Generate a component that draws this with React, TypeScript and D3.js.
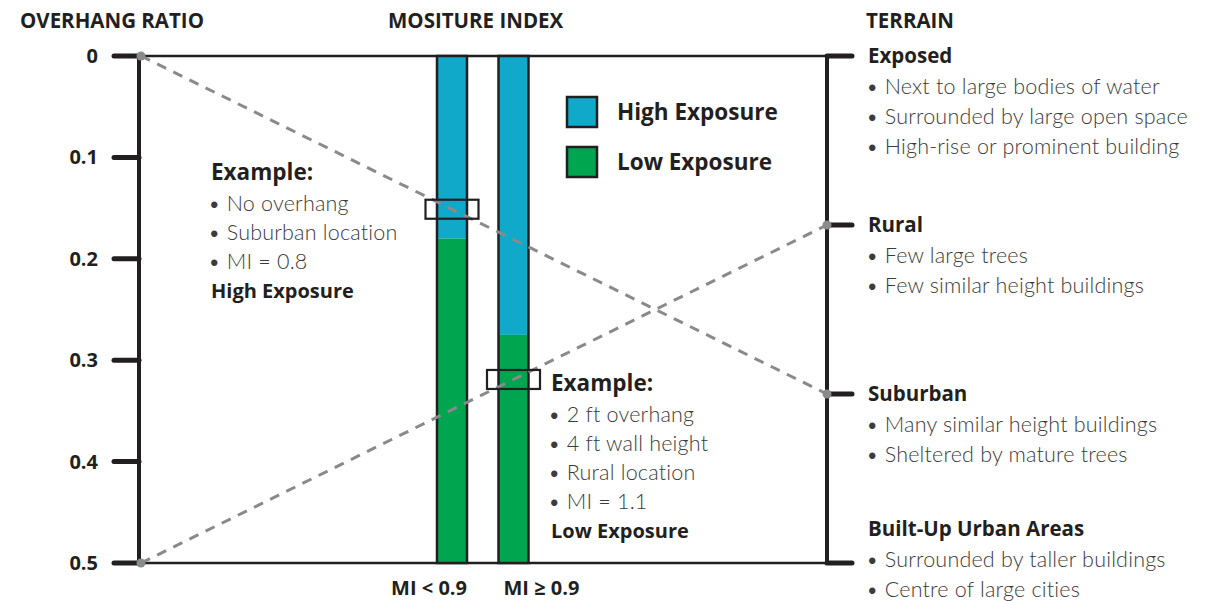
import { useRef, useEffect } from "react";
import * as d3 from "d3";

// overhang ratio axis (left)
const overhangTicks = [0, 0.1, 0.2, 0.3, 0.4, 0.5];

// moisture index bars: overhang ratio where high exposure ends
const miCategories = ["MI < 0.9", "MI ≥ 0.9"];
const highExposureLimit = [0.18, 0.275];

// terrain (right axis)
const terrainNames = ["Exposed", "Rural", "Suburban", "Built-Up Urban Areas"];
const terrainBullets = [
  ["Next to large bodies of water", "Surrounded by large open space", "High-rise or prominent building"],
  ["Few large trees", "Few similar height buildings"],
  ["Many similar height buildings", "Sheltered by mature trees"],
  ["Surrounded by taller buildings", "Centre of large cities"],
];

// dashed connectors: overhang ratio -> terrain
const connectorFrom = [0, 0.5];
const connectorTo = ["Suburban", "Rural"];

// worked examples
const exampleBar = [0, 1];
const exampleBullets = [
  ["No overhang", "Suburban location", "MI = 0.8"],
  ["2 ft overhang", "4 ft wall height", "Rural location", "MI = 1.1"],
];
const exampleResult = ["High Exposure", "Low Exposure"];

const legendLabels = ["High Exposure", "Low Exposure"];

const BLUE = "#10a9c9";
const GREEN = "#00a64f";
const INK = "#231f20";
const GREY = "#898a8c";
const BOLD = "'Open Sans', sans-serif";
const LIGHT = "Lato, sans-serif";

function drawChart(svgRef) {
  const width = 1205, height = 601;
  const left = 139, right = 827, top = 56, bottom = 563;

  let svg = d3.select(svgRef.current);
  svg.selectAll("*").remove();
  svg.attr("width", width).attr("height", height).attr("viewBox", `0 0 ${width} ${height}`);

  const y = d3.scaleLinear().domain([0, 0.5]).range([top, bottom]);
  const ty = d3.scalePoint().domain(terrainNames).range([top, bottom]);
  const x = d3.scalePoint().domain(miCategories).range([452, 513.5]);
  const barW = 30;

  const bold = (sel, size) => sel.attr("font-family", BOLD).attr("font-size", size)
    .attr("font-weight", 700).attr("fill", INK);
  const light = (sel) => sel.attr("font-family", LIGHT).attr("font-size", 21.5)
    .attr("font-weight", 300).attr("fill", "#3b3b3d").attr("letter-spacing", 0.2);

  // titles
  const titles = [["OVERHANG RATIO", 20], ["MOSITURE INDEX", 388], ["TERRAIN", 866]];
  svg.selectAll(".title").data(titles).join("text")
    .attr("x", d => d[1]).attr("y", 28)
    .call(bold, 20.5)
    .text(d => d[0]);

  // frame lines
  svg.append("line").attr("x1", left).attr("x2", right).attr("y1", top).attr("y2", top)
    .attr("stroke", INK).attr("stroke-width", 2.5);
  svg.append("line").attr("x1", left).attr("x2", right).attr("y1", bottom).attr("y2", bottom)
    .attr("stroke", INK).attr("stroke-width", 2.5);

  // left axis
  svg.append("line").attr("x1", left).attr("x2", left).attr("y1", top - 2).attr("y2", bottom + 2)
    .attr("stroke", INK).attr("stroke-width", 4);
  svg.selectAll(".ltick").data(overhangTicks).join("line")
    .attr("x1", 114).attr("x2", left).attr("y1", d => y(d)).attr("y2", d => y(d))
    .attr("stroke", INK).attr("stroke-width", 5).attr("stroke-linecap", "round");
  svg.selectAll(".llab").data(overhangTicks).join("text")
    .attr("x", 98).attr("y", d => y(d)).attr("dy", "0.35em")
    .attr("text-anchor", "end").call(bold, 20)
    .text(d => d3.format("")(d));

  // right axis
  svg.append("line").attr("x1", right).attr("x2", right).attr("y1", top - 2).attr("y2", bottom + 2)
    .attr("stroke", INK).attr("stroke-width", 4);
  svg.selectAll(".rtick").data(terrainNames).join("line")
    .attr("x1", right).attr("x2", 852).attr("y1", d => ty(d)).attr("y2", d => ty(d))
    .attr("stroke", INK).attr("stroke-width", 5).attr("stroke-linecap", "round");

  // bars
  const bars = svg.append("g");
  miCategories.forEach((c, i) => {
    const x0 = x(c) - barW / 2;
    bars.append("rect").attr("x", x0).attr("y", y(0)).attr("width", barW)
      .attr("height", y(highExposureLimit[i]) - y(0)).attr("fill", BLUE);
    bars.append("rect").attr("x", x0).attr("y", y(highExposureLimit[i])).attr("width", barW)
      .attr("height", y(0.5) - y(highExposureLimit[i])).attr("fill", GREEN);
    bars.append("rect").attr("x", x0).attr("y", y(0)).attr("width", barW)
      .attr("height", y(0.5) - y(0)).attr("fill", "none")
      .attr("stroke", INK).attr("stroke-width", 2.5);
  });
  svg.selectAll(".milab").data(miCategories).join("text")
    .attr("x", (d, i) => i === 0 ? x(d) + barW / 2 : x(d) - barW / 2 + 5)
    .attr("y", 595)
    .attr("text-anchor", (d, i) => i === 0 ? "end" : "start")
    .call(bold, 20)
    .text(d => d);

  // dashed connectors
  const lines = connectorFrom.map((f, i) => ({
    x1: left + 2, y1: y(f), x2: right, y2: ty(connectorTo[i]),
  }));
  svg.selectAll(".conn").data(lines).join("line")
    .attr("x1", d => d.x1).attr("y1", d => d.y1).attr("x2", d => d.x2).attr("y2", d => d.y2)
    .attr("stroke", GREY).attr("stroke-width", 3).attr("stroke-dasharray", "10 8");
  const dots = lines.flatMap(d => [[d.x1, d.y1], [d.x2, d.y2]]);
  svg.selectAll(".dot").data(dots).join("circle")
    .attr("cx", d => d[0]).attr("cy", d => d[1]).attr("r", 4.5).attr("fill", GREY);

  // example boxes where a connector crosses a bar
  exampleBar.forEach((b, i) => {
    const l = lines[i];
    const cx = x(miCategories[b]);
    const cy = l.y1 + (cx - l.x1) / (l.x2 - l.x1) * (l.y2 - l.y1);
    svg.append("rect").attr("x", cx - 26.5).attr("y", cy - 9.5).attr("width", 53).attr("height", 19)
      .attr("fill", "none").attr("stroke", INK).attr("stroke-width", 2.2);
  });

  // legend
  legendLabels.forEach((t, i) => {
    svg.append("rect").attr("x", 567).attr("y", 97 + i * 50).attr("width", 30).attr("height", 30)
      .attr("fill", i === 0 ? BLUE : GREEN).attr("stroke", INK).attr("stroke-width", 2.5);
    svg.append("text").attr("x", 617).attr("y", 112 + i * 50).attr("dy", "0.35em")
      .call(bold, 22.5).text(t);
  });

  // example text blocks
  const exPos = [[211, 172], [551, 383]];
  exampleBullets.forEach((bl, i) => {
    const [ex, ey] = exPos[i];
    const g = svg.append("g").attr("transform", `translate(${ex},${ey})`);
    g.append("text").attr("y", 0).attr("dy", "0.35em").call(bold, 22.5).text("Example:");
    bl.forEach((t, j) => {
      g.append("text").attr("x", -3).attr("y", 31 + j * 29).attr("dy", "0.35em").call(light).text(`• ${t}`);
    });
    g.append("text").attr("y", 31 + bl.length * 29 + 1).attr("dy", "0.35em")
      .call(bold, 20).text(exampleResult[i]);
  });

  // terrain text
  terrainNames.forEach((n, i) => {
    const ny = i === terrainNames.length - 1 ? ty(n) - 34 : ty(n);
    svg.append("text").attr("x", 868).attr("y", ny).attr("dy", "0.35em").call(bold, 20.5).text(n);
    terrainBullets[i].forEach((t, j) => {
      svg.append("text").attr("x", 866).attr("y", ny + 30 + j * 30).attr("dy", "0.35em")
        .call(light).text(`• ${t}`);
    });
  });
}

export default function App() {
  const svg = useRef(null);
  useEffect(() => {
    drawChart(svg);
  }, [svg]);

  return <svg ref={svg} style={{ position: "absolute", left: 0, top: 0 }} />;
}
